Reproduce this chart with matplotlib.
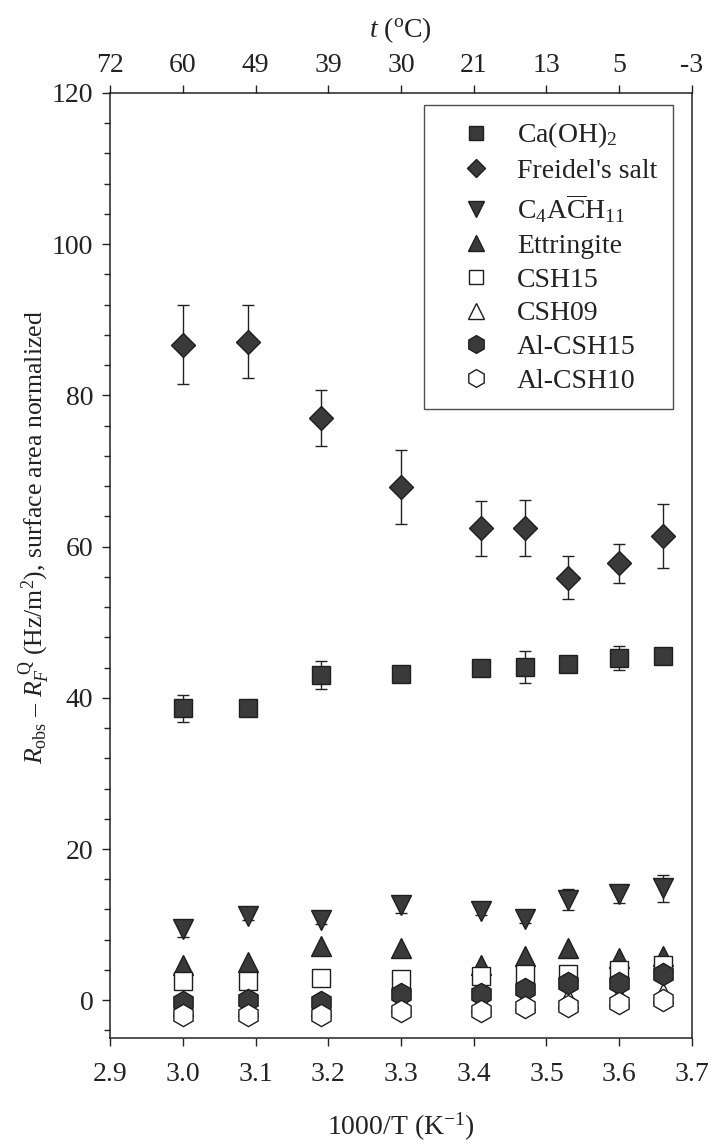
import matplotlib
matplotlib.use('Agg')
import matplotlib.pyplot as plt
from matplotlib.lines import Line2D

plt.rcParams['font.family'] = ['Liberation Serif', 'DejaVu Serif']
plt.rcParams['mathtext.fontset'] = 'custom'
plt.rcParams['mathtext.rm'] = 'Liberation Serif'
plt.rcParams['mathtext.it'] = 'Liberation Serif:italic'

# x positions (1000/T) and top-axis temperature labels
x = [3.00, 3.09, 3.19, 3.30, 3.41, 3.47, 3.53, 3.60, 3.66]
xticks = [2.9, 3.0, 3.1, 3.2, 3.3, 3.4, 3.5, 3.6, 3.7]
t_labels = ['72', '60', '49', '39', '30', '21', '13', '5', '-3']

caoh2 = [38.6, 38.6, 43.0, 43.1, 43.9, 44.1, 44.5, 45.3, 45.5]
caoh2_err = [1.8, 0.5, 1.8, 1.0, 0.5, 2.1, 1.0, 1.6, 0.8]
freidel = [86.7, 87.1, 77.0, 67.9, 62.4, 62.5, 55.9, 57.8, 61.4]
freidel_err = [5.2, 4.8, 3.7, 4.9, 3.6, 3.7, 2.9, 2.6, 4.2]
c4ach11 = [9.4, 11.1, 10.6, 12.6, 11.8, 10.7, 13.3, 14.0, 14.8]
c4ach11_err = [1.0, 0.5, 0.5, 1.0, 0.5, 0.5, 1.4, 1.2, 1.8]
ettringite = [4.7, 5.0, 7.2, 6.9, 4.7, 5.8, 6.9, 5.6, 5.9]
csh15 = [2.5, 2.5, 3.0, 2.8, 3.2, 3.5, 3.5, 4.0, 4.6]
csh09 = [-0.8, -0.8, -0.8, -0.3, -0.3, 0.0, 0.3, 0.5, 0.9]
alcsh15 = [-0.2, 0.0, -0.2, 0.8, 0.8, 1.5, 2.3, 2.3, 3.5]
alcsh10 = [-1.9, -1.9, -1.9, -1.4, -1.4, -0.9, -0.7, -0.4, 0.0]

fill = '#3a3a3a'
edge = '#1e1e1e'
ink = '#222222'
fs = 20

fig = plt.figure(figsize=(7.13, 11.47), dpi=100)
ax = fig.add_axes([0.1543, 0.0950, 0.8162, 0.8240])

# error bars first, markers on top
for vals, err in [(caoh2, caoh2_err), (freidel, freidel_err), (c4ach11, c4ach11_err)]:
    ax.errorbar(x, vals, yerr=err, fmt='none', ecolor=ink, elinewidth=1.0,
                capsize=4, capthick=1.0, zorder=1)

series = [
    (caoh2, 's', 13, fill, 'Ca(OH)$_2$'),
    (freidel, 'D', 12, fill, "Freidel's salt"),
    (c4ach11, 'v', 14, fill, r'C$_4$A$\overline{\rm C}$H$_{11}$'),
    (ettringite, '^', 14, fill, 'Ettringite'),
    (csh15, 's', 13, 'white', 'CSH15'),
    (csh09, '^', 14, 'white', 'CSH09'),
    (alcsh15, 'h', 16, fill, 'Al-CSH15'),
    (alcsh10, 'h', 16, 'white', 'Al-CSH10'),
]
handles = []
for i, (vals, m, ms, fc, lab) in enumerate(series):
    ax.plot(x, vals, linestyle='none', marker=m, markersize=ms,
            markerfacecolor=fc, markeredgecolor=edge, markeredgewidth=1.0,
            zorder=2 + i)
    handles.append(Line2D([], [], linestyle='none', marker=m, markersize=ms * 0.8,
                          markerfacecolor=fc, markeredgecolor=edge,
                          markeredgewidth=1.0, label=lab))

ax.set_xlim(2.9, 3.7)
ax.set_ylim(-5, 120)
ax.set_xticks(xticks)
ax.set_xticklabels([f'{v:.1f}' for v in xticks])
ax.set_yticks([0, 20, 40, 60, 80, 100, 120])
ax.set_yticks([v for v in range(-4, 120, 4) if v % 20 != 0], minor=True)
ax.tick_params(axis='both', which='major', direction='out', length=6,
               width=1.0, color=ink, labelsize=fs, labelcolor=ink, pad=6)
ax.tick_params(axis='y', which='minor', direction='out', length=4, width=1.0, color=ink)
ax.tick_params(axis='x', which='major', pad=11)
for s in ax.spines.values():
    s.set_color(ink)
    s.set_linewidth(1.1)

ax.set_xlabel('1000/T (K$^{-1}$)', fontsize=fs, color=ink, labelpad=17)
ax.set_ylabel(r'$R_{\rm obs}$ – $R_F^{\rm\ Q}$ (Hz/m$^2$), surface area normalized',
              fontsize=18.5, color=ink)
ax.yaxis.set_label_coords(-0.098, 0.53)

top = ax.twiny()
top.set_xlim(ax.get_xlim())
top.set_xticks(xticks)
top.set_xticklabels(t_labels)
top.tick_params(axis='x', direction='out', length=6, width=1.0, color=ink,
                labelsize=fs, labelcolor=ink, pad=5)
top.set_xlabel(r'$t$ ($^{\rm o}$C)', fontsize=fs, color=ink, labelpad=11)
for s in top.spines.values():
    s.set_visible(False)

leg = ax.legend(handles=handles, loc='upper right', bbox_to_anchor=(0.967, 0.987),
                borderaxespad=0, fontsize=fs, frameon=True, fancybox=False,
                edgecolor=ink, labelspacing=0.30, handletextpad=0.2,
                borderpad=0.55, handlelength=2.6)
leg.get_frame().set_linewidth(1.0)
for txt in leg.get_texts():
    txt.set_color(ink)

fig.savefig('out.png', dpi=100, facecolor='white')
